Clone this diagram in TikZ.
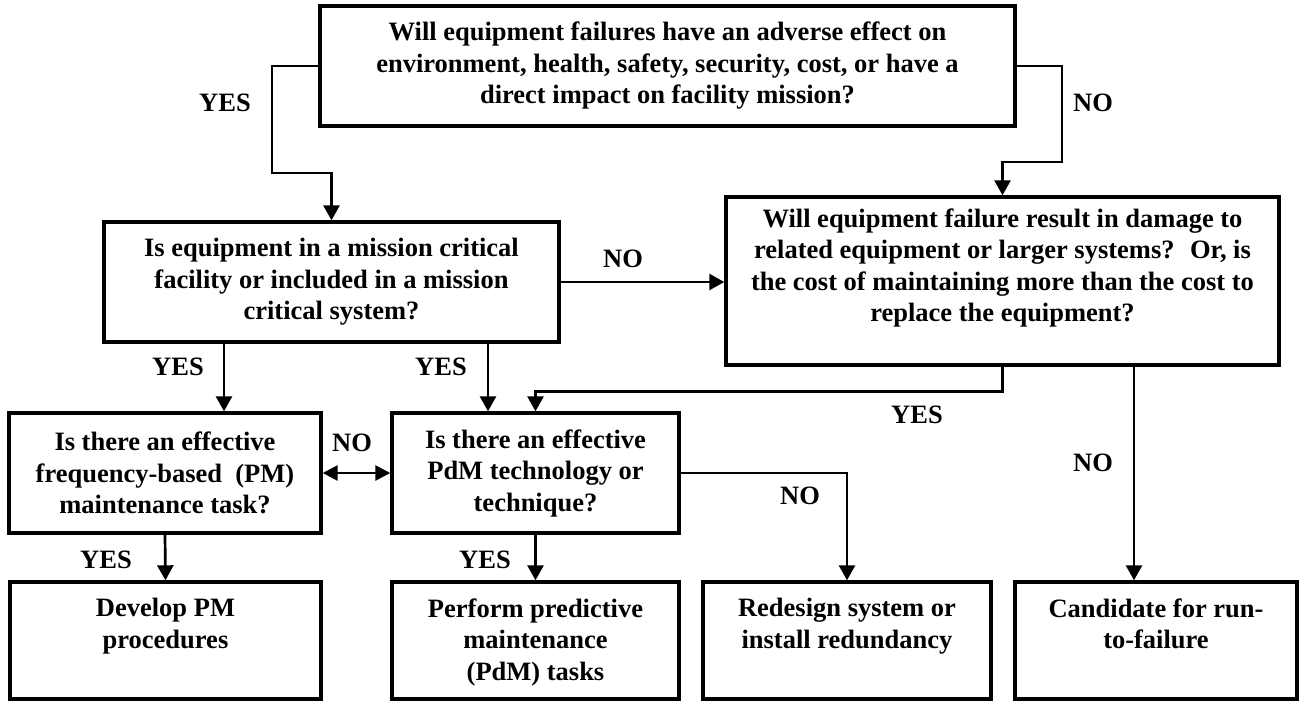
\documentclass[tikz,border=0pt]{standalone}
\usepackage{fontspec}
\setmainfont{Liberation Serif}
\usetikzlibrary{arrows.meta}
\begin{document}
\begin{tikzpicture}[x=1pt,y=-1pt,
  fnt/.style={font=\bfseries\fontsize{26.5}{31.5}\selectfont},
  box/.style={draw, line width=3.4pt, inner sep=0pt, align=center, fnt},
  txt/.style={inner sep=0pt, align=center, anchor=north, fnt},
  lbl/.style={inner sep=0pt, fnt},
  conn/.style={line width=2.7pt, -{Triangle[length=15pt,width=16pt]}},
  dconn/.style={line width=2.7pt, {Triangle[length=15pt,width=15pt]}-{Triangle[length=15pt,width=15pt]}},
]
\useasboundingbox (0,0) rectangle (1299,702);

% boxes
\node[box, minimum width=695, minimum height=120] (A) at (667.5,66)
  {Will equipment failures have an adverse effect on\\environment, health, safety, security, cost, or have a\\direct impact on facility mission?};
\node[box, minimum width=455, minimum height=120] (B) at (331.5,282)
  {Is equipment in a mission critical\\facility or included in a mission\\critical system?};
\node[box, minimum width=553, minimum height=168] (C) at (1002.5,281) {};
\node[txt] (Ct) at ([yshift=-13pt]C.north)
  {Will equipment failure result in damage to\\related equipment or larger systems?~ Or, is\\the cost of maintaining more than the cost to\\replace the equipment?};
\node[box, minimum width=312, minimum height=120] (D) at (165,473)
  {Is there an effective\\frequency-based~ (PM)\\maintenance task?};
\node[box, minimum width=287, minimum height=120] (E) at (535.5,473)
  {Is there an effective\\PdM technology or\\technique?};
\node[box, minimum width=311, minimum height=117] (G) at (165.5,640.5) {};
\node[box, minimum width=287, minimum height=117] (P) at (535.5,640.5) {};
\node[box, minimum width=288, minimum height=117] (F) at (847,640.5) {};
\node[box, minimum width=282, minimum height=117] (H) at (1156,640.5) {};
\node[txt] (Gt) at ([yshift=-18pt]G.north) {Develop PM\\procedures};
\node[txt] (Pt) at ([yshift=-18pt]P.north) {Perform predictive\\maintenance\\(PdM) tasks};
\node[txt] (Ft) at ([yshift=-18pt]F.north) {Redesign system or\\install redundancy};
\node[txt] (Ht) at ([yshift=-18pt]H.north) {Candidate for run-\\to-failure};

% bend coordinates
\coordinate (ay) at (272,173);
\coordinate (an) at (1062,162);
\coordinate (b1) at ([xshift=-107.5pt]B.south);
\coordinate (b2) at ([xshift=156.5pt]B.south);
\coordinate (c2) at ([xshift=131.5pt]C.south);

% connectors
\draw[conn] (A.west) -| (ay) -| (B.north);
\draw[conn] (A.east) -| (an) -| (C.north);
\draw[conn] (B.east) -- (C.west |- B.east);
\draw[conn] (b1) -- (b1 |- D.north);
\draw[conn] (b2) -- (b2 |- E.north);
\draw[conn] (C.south) -- ++(0,25) -| (E.north);
\draw[conn] (c2) -- (c2 |- H.north);
\draw[dconn] (D.east) -- (E.west);
\draw[conn] (E.east) -| (F.north);
\draw[conn] (E.south) -- (P.north);
\draw[conn] (D.south) -- (G.north);

% labels
\node[lbl] (l1) at (225,103) {YES};
\node[lbl] (l2) at (1093,103) {NO};
\node[lbl] (l3) at (623,259) {NO};
\node[lbl] (l4) at (178,367) {YES};
\node[lbl] (l5) at (441,367) {YES};
\node[lbl] (l6) at (917,415) {YES};
\node[lbl] (l7) at (352,443) {NO};
\node[lbl] (l8) at (1093,463) {NO};
\node[lbl] (l9) at (800,496) {NO};
\node[lbl] (l10) at (106,560) {YES};
\node[lbl] (l11) at (485,560) {YES};
\end{tikzpicture}
\end{document}
